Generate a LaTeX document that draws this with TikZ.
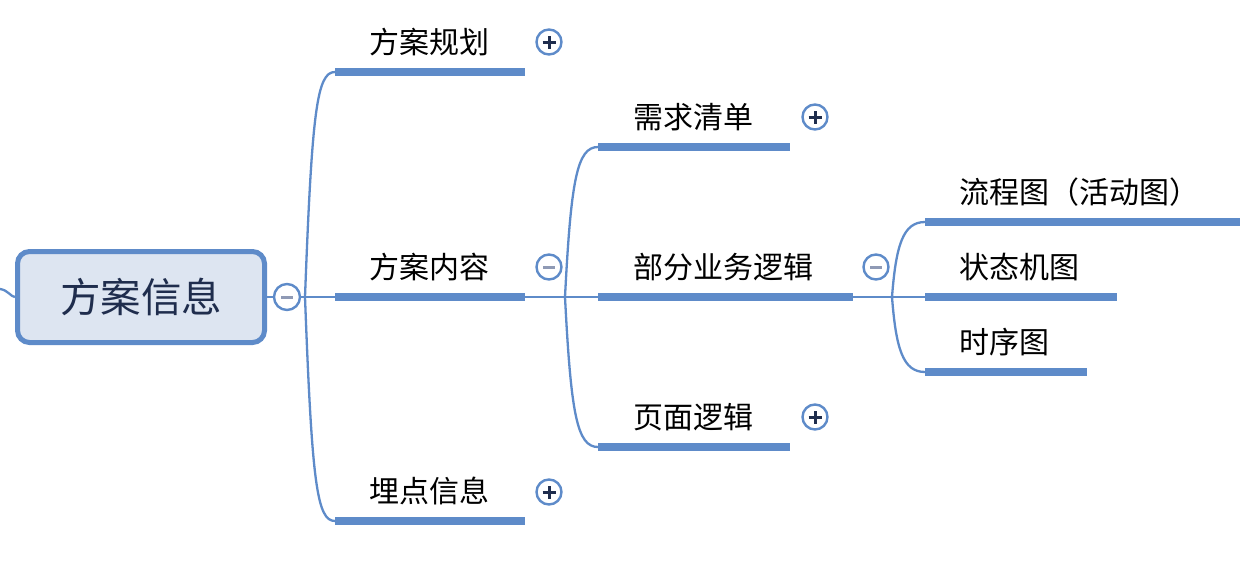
\documentclass[tikz,border=0pt]{standalone}
\usepackage{fontspec}
\newfontfamily\cjk{Noto Sans CJK SC}
\usepackage{tikz}
\definecolor{linkblue}{RGB}{94,139,201}
\definecolor{rootfill}{RGB}{221,229,241}
\definecolor{navy}{RGB}{31,45,77}
\definecolor{dimgrey}{RGB}{143,154,181}
\tikzset{
  rootbox/.style={draw=linkblue, line width=5pt, fill=rootfill, rounded corners=12pt,
    minimum width=247pt, minimum height=91pt, text=navy, font=\cjk\fontsize{40.5}{46}\selectfont},
  topic/.style={anchor=west, inner sep=0pt, font=\cjk\fontsize{30}{34}\selectfont},
  bar/.style={linkblue, line width=8pt},
  link/.style={linkblue, line width=2.3pt},
  toggle/.style={circle, draw=linkblue, line width=2.4pt, fill=white, minimum size=25pt, inner sep=0pt},
  expand/.style={toggle, path picture={
    \draw[navy, line width=3pt] ([xshift=-6.5pt]path picture bounding box.center) -- ([xshift=6.5pt]path picture bounding box.center)
      ([yshift=-6.5pt]path picture bounding box.center) -- ([yshift=6.5pt]path picture bounding box.center);}},
  collapse/.style={toggle, path picture={
    \draw[dimgrey, line width=3pt] ([xshift=-6pt]path picture bounding box.center) -- ([xshift=6pt]path picture bounding box.center);}}
}
\begin{document}
\begin{tikzpicture}[x=1pt, y=-1pt]
  \useasboundingbox (0,0) rectangle (1255,565);

  % root
  \node[rootbox] (root) at (141,297) {方案信息};
  \coordinate (in) at (0,289);
  \draw[link] (in) .. controls (8,290) and (11,297) .. (root.west);

  % level 1
  \foreach \n/\y/\t in {plan/72/方案规划, cont/297/方案内容, track/521/埋点信息}{
    \coordinate (\n) at (335,\y);
    \coordinate (\n-e) at (525,\y);
    \draw[bar] (\n) -- (\n-e);
    \node[topic] (\n-t) at (369,\y-30) {\t};
  }
  \coordinate (k0) at (305,297);
  \draw[link] (root.east) -- (cont);
  \draw[link] (k0) .. controls (312,110) and (317,72) .. (plan);
  \draw[link] (k0) .. controls (312,484) and (317,521) .. (track);

  % level 2
  \foreach \n/\y/\e/\t in {req/147/790/需求清单, biz/297/853/部分业务逻辑, page/447/790/页面逻辑}{
    \coordinate (\n) at (598,\y);
    \coordinate (\n-e) at (\e,\y);
    \draw[bar] (\n) -- (\n-e);
    \node[topic] (\n-t) at (633,\y-30) {\t};
  }
  \coordinate (k1) at (565,297);
  \draw[link] (cont-e) -- (biz);
  \draw[link] (k1) .. controls (571,180) and (577,147) .. (req);
  \draw[link] (k1) .. controls (571,414) and (577,447) .. (page);

  % level 3
  \foreach \n/\y/\e/\t in {flow/222/1240/流程图（活动图）, state/297/1117/状态机图, seq/372/1087/时序图}{
    \coordinate (\n) at (925,\y);
    \coordinate (\n-e) at (\e,\y);
    \draw[bar] (\n) -- (\n-e);
    \node[topic] (\n-t) at (959,\y-30) {\t};
  }
  \coordinate (k2) at (892,297);
  \draw[link] (biz-e) -- (state);
  \draw[link] (k2) .. controls (896,245) and (903,222) .. (flow);
  \draw[link] (k2) .. controls (896,349) and (903,372) .. (seq);

  % toggles
  \node[collapse, minimum size=26pt] (root-x) at (287,297) {};
  \node[expand] (plan-x) at (549,42) {};
  \node[collapse] (cont-x) at (549,267) {};
  \node[expand] (track-x) at (549,492) {};
  \node[expand] (req-x) at (815,117) {};
  \node[collapse] (biz-x) at (876,267) {};
  \node[expand] (page-x) at (815,417) {};
\end{tikzpicture}
\end{document}
